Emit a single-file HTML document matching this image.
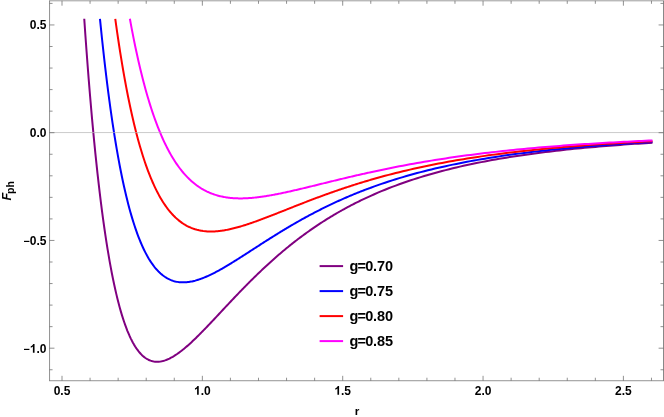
<!DOCTYPE html>
<html><head><meta charset="utf-8"><title>F_ph vs r</title>
<style>
html,body{margin:0;padding:0;background:#fff;}
body{width:664px;height:417px;overflow:hidden;}
svg{display:block;will-change:transform;}
text{font-family:"Liberation Sans",sans-serif;font-weight:bold;fill:#000;}
</style></head>
<body>
<svg width="664" height="417" viewBox="0 0 664 417">
<rect x="0" y="0" width="664" height="417" fill="#ffffff"/>
<!-- curves -->
<g>
<polyline points="84.25,18.80 85.35,34.73 86.46,50.04 87.57,64.76 88.67,78.90 89.78,92.49 90.89,105.54 91.99,118.08 93.10,130.13 94.20,141.69 95.31,152.79 96.42,163.44 97.52,173.66 98.63,183.47 99.74,192.87 100.84,201.89 101.95,210.53 103.05,218.81 104.16,226.74 105.27,234.33 106.37,241.60 107.48,248.55 108.59,255.21 109.69,261.56 110.80,267.64 111.90,273.44 113.01,278.98 114.12,284.27 115.22,289.31 116.33,294.11 117.44,298.68 118.54,303.04 119.65,307.18 120.75,311.11 121.86,314.84 122.97,318.39 124.07,321.74 125.18,324.92 126.29,327.93 127.39,330.77 128.50,333.44 129.60,335.97 130.71,338.34 131.82,340.57 132.92,342.66 134.03,344.61 135.14,346.44 136.24,348.13 137.35,349.71 138.45,351.18 139.56,352.53 140.67,353.77 141.77,354.90 142.88,355.94 143.99,356.88 145.09,357.73 146.20,358.48 147.30,359.15 148.41,359.74 149.52,360.24 150.62,360.67 151.73,361.02 152.84,361.30 153.94,361.52 155.05,361.66 156.16,361.74 157.26,361.76 158.37,361.72 159.47,361.63 160.58,361.48 161.69,361.27 162.79,361.02 163.90,360.72 165.01,360.37 166.11,359.98 167.22,359.54 168.32,359.06 169.43,358.55 170.54,357.99 171.64,357.40 172.75,356.78 173.86,356.12 174.96,355.43 176.07,354.71 177.17,353.96 178.28,353.19 179.39,352.38 180.49,351.56 181.60,350.70 182.71,349.83 183.81,348.93 184.92,348.02 186.02,347.08 187.13,346.12 188.24,345.15 189.34,344.16 190.45,343.16 191.56,342.14 192.66,341.10 193.77,340.05 194.87,338.99 195.98,337.92 197.09,336.84 198.19,335.75 199.30,334.64 200.41,333.53 201.51,332.41 202.62,331.28 203.72,330.15 204.83,329.00 205.94,327.86 207.04,326.70 208.15,325.54 209.26,324.38 210.36,323.21 211.47,322.04 212.57,320.87 213.68,319.69 214.79,318.52 215.89,317.33 217.00,316.15 218.11,314.97 219.21,313.78 220.32,312.60 221.42,311.42 222.53,310.23 223.64,309.05 224.74,307.86 225.85,306.68 226.96,305.50 228.06,304.32 229.17,303.14 230.27,301.97 231.38,300.80 232.49,299.63 233.59,298.46 234.70,297.29 235.81,296.13 236.91,294.97 238.02,293.82 239.12,292.67 240.23,291.52 241.34,290.38 242.44,289.24 243.55,288.10 244.66,286.97 245.76,285.84 246.87,284.72 247.97,283.61 249.08,282.49 250.19,281.39 251.29,280.29 252.40,279.19 253.51,278.10 254.61,277.01 255.72,275.93 256.82,274.86 257.93,273.79 259.04,272.72 260.14,271.67 261.25,270.61 262.36,269.57 263.46,268.53 264.57,267.49 265.68,266.46 266.78,265.44 267.89,264.42 268.99,263.41 270.10,262.41 271.21,261.41 272.31,260.42 273.42,259.43 274.53,258.45 275.63,257.48 276.74,256.51 277.84,255.55 278.95,254.60 280.06,253.65 281.16,252.71 282.27,251.77 283.38,250.84 284.48,249.92 285.59,249.00 286.69,248.09 287.80,247.19 288.91,246.29 290.01,245.40 291.12,244.51 292.23,243.64 293.33,242.76 294.44,241.90 295.54,241.04 296.65,240.18 297.76,239.33 298.86,238.49 299.97,237.66 301.08,236.83 302.18,236.01 303.29,235.19 304.39,234.38 305.50,233.57 306.61,232.78 307.71,231.98 308.82,231.20 309.93,230.42 311.03,229.64 312.14,228.87 313.24,228.11 314.35,227.35 315.46,226.60 316.56,225.86 317.67,225.12 318.78,224.38 319.88,223.66 320.99,222.93 322.09,222.22 323.20,221.51 324.31,220.80 325.41,220.10 326.52,219.41 327.63,218.72 328.73,218.03 329.84,217.36 330.94,216.69 332.05,216.02 333.16,215.36 334.26,214.70 335.37,214.05 336.48,213.40 337.58,212.76 338.69,212.13 339.79,211.50 340.90,210.87 342.01,210.25 343.11,209.64 344.22,209.03 345.33,208.42 346.43,207.82 347.54,207.23 348.64,206.64 349.75,206.05 350.86,205.47 351.96,204.90 353.07,204.33 354.18,203.76 355.28,203.20 356.39,202.64 357.49,202.09 358.60,201.54 359.71,201.00 360.81,200.46 361.92,199.92 363.03,199.39 364.13,198.87 365.24,198.35 366.34,197.83 367.45,197.32 368.56,196.81 369.66,196.31 370.77,195.81 374.34,194.22 377.90,192.68 381.47,191.18 385.03,189.72 388.60,188.30 392.16,186.92 395.73,185.57 399.29,184.26 402.86,182.99 406.43,181.75 409.99,180.54 413.56,179.36 417.12,178.22 420.69,177.11 424.25,176.02 427.82,174.97 431.39,173.94 434.95,172.94 438.52,171.97 442.08,171.02 445.65,170.10 449.21,169.20 452.78,168.33 456.34,167.47 459.91,166.65 463.48,165.84 467.04,165.05 470.61,164.29 474.17,163.54 477.74,162.82 481.30,162.11 484.87,161.42 488.43,160.75 492.00,160.09 495.57,159.46 499.13,158.84 502.70,158.23 506.26,157.64 509.83,157.07 513.39,156.51 516.96,155.96 520.53,155.43 524.09,154.91 527.66,154.41 531.22,153.92 534.79,153.44 538.35,152.97 541.92,152.51 545.48,152.07 549.05,151.64 552.62,151.21 556.18,150.80 559.75,150.40 563.31,150.01 566.88,149.62 570.44,149.25 574.01,148.88 577.57,148.53 581.14,148.18 584.71,147.84 588.27,147.51 591.84,147.19 595.40,146.88 598.97,146.57 602.53,146.27 606.10,145.98 609.67,145.69 613.23,145.41 616.80,145.14 620.36,144.88 623.93,144.62 627.49,144.36 631.06,144.12 634.62,143.87 638.19,143.64 641.76,143.41 645.32,143.18 648.89,142.96 652.45,142.75" fill="none" stroke="#800080" stroke-width="2.0" stroke-linejoin="round" stroke-linecap="butt"/>
<polyline points="99.97,18.80 101.02,29.19 102.06,39.23 103.11,48.94 104.16,58.32 105.20,67.39 106.25,76.15 107.29,84.62 108.34,92.80 109.38,100.70 110.43,108.34 111.47,115.71 112.52,122.83 113.57,129.70 114.61,136.34 115.66,142.74 116.70,148.93 117.75,154.89 118.79,160.64 119.84,166.19 120.88,171.54 121.93,176.70 122.98,181.67 124.02,186.46 125.07,191.08 126.11,195.53 127.16,199.81 128.20,203.93 129.25,207.89 130.29,211.71 131.34,215.38 132.39,218.91 133.43,222.30 134.48,225.55 135.52,228.68 136.57,231.68 137.61,234.56 138.66,237.32 139.70,239.97 140.75,242.50 141.79,244.93 142.84,247.26 143.89,249.48 144.93,251.60 145.98,253.63 147.02,255.57 148.07,257.41 149.11,259.17 150.16,260.85 151.20,262.44 152.25,263.96 153.30,265.39 154.34,266.76 155.39,268.05 156.43,269.27 157.48,270.42 158.52,271.51 159.57,272.53 160.61,273.49 161.66,274.39 162.71,275.24 163.75,276.02 164.80,276.76 165.84,277.44 166.89,278.07 167.93,278.65 168.98,279.18 170.02,279.66 171.07,280.10 172.12,280.50 173.16,280.85 174.21,281.17 175.25,281.44 176.30,281.68 177.34,281.87 178.39,282.04 179.43,282.17 180.48,282.26 181.53,282.33 182.57,282.36 183.62,282.36 184.66,282.33 185.71,282.28 186.75,282.19 187.80,282.08 188.84,281.95 189.89,281.79 190.94,281.61 191.98,281.40 193.03,281.17 194.07,280.92 195.12,280.66 196.16,280.37 197.21,280.06 198.25,279.73 199.30,279.39 200.35,279.03 201.39,278.65 202.44,278.26 203.48,277.85 204.53,277.43 205.57,276.99 206.62,276.54 207.66,276.08 208.71,275.60 209.76,275.11 210.80,274.62 211.85,274.11 212.89,273.59 213.94,273.06 214.98,272.52 216.03,271.97 217.07,271.41 218.12,270.85 219.17,270.28 220.21,269.70 221.26,269.11 222.30,268.51 223.35,267.91 224.39,267.31 225.44,266.69 226.48,266.08 227.53,265.45 228.58,264.82 229.62,264.19 230.67,263.55 231.71,262.91 232.76,262.27 233.80,261.62 234.85,260.97 235.89,260.31 236.94,259.66 237.99,259.00 239.03,258.33 240.08,257.67 241.12,257.00 242.17,256.33 243.21,255.66 244.26,254.99 245.30,254.32 246.35,253.65 247.40,252.97 248.44,252.30 249.49,251.62 250.53,250.95 251.58,250.27 252.62,249.60 253.67,248.92 254.71,248.24 255.76,247.57 256.81,246.89 257.85,246.22 258.90,245.54 259.94,244.87 260.99,244.20 262.03,243.53 263.08,242.86 264.12,242.19 265.17,241.52 266.22,240.86 267.26,240.19 268.31,239.53 269.35,238.87 270.40,238.21 271.44,237.55 272.49,236.89 273.53,236.24 274.58,235.58 275.63,234.93 276.67,234.29 277.72,233.64 278.76,233.00 279.81,232.36 280.85,231.72 281.90,231.08 282.94,230.45 283.99,229.81 285.04,229.18 286.08,228.56 287.13,227.93 288.17,227.31 289.22,226.69 290.26,226.08 291.31,225.46 292.35,224.85 293.40,224.24 294.44,223.64 295.49,223.04 296.54,222.44 297.58,221.84 298.63,221.25 299.67,220.66 300.72,220.07 301.76,219.49 302.81,218.90 303.85,218.33 304.90,217.75 305.95,217.18 306.99,216.61 308.04,216.04 309.08,215.48 310.13,214.92 311.17,214.36 312.22,213.81 313.26,213.26 314.31,212.71 315.36,212.17 316.40,211.62 317.45,211.09 318.49,210.55 319.54,210.02 320.58,209.49 321.63,208.96 322.67,208.44 323.72,207.92 324.77,207.41 325.81,206.89 326.86,206.38 327.90,205.88 328.95,205.37 329.99,204.87 331.04,204.37 332.08,203.88 333.13,203.39 334.18,202.90 335.22,202.42 336.27,201.93 337.31,201.45 338.36,200.98 339.40,200.51 340.45,200.04 341.49,199.57 342.54,199.11 343.59,198.64 344.63,198.19 345.68,197.73 346.72,197.28 347.77,196.83 348.81,196.39 349.86,195.94 350.90,195.50 351.95,195.07 353.00,194.63 354.04,194.20 355.09,193.77 356.13,193.35 357.18,192.93 358.22,192.51 359.27,192.09 360.31,191.68 361.36,191.27 362.41,190.86 363.45,190.45 364.50,190.05 365.54,189.65 366.59,189.25 367.63,188.86 368.68,188.47 369.72,188.08 370.77,187.69 374.34,186.40 377.90,185.13 381.47,183.90 385.03,182.69 388.60,181.52 392.16,180.37 395.73,179.25 399.29,178.15 402.86,177.09 406.43,176.05 409.99,175.03 413.56,174.04 417.12,173.07 420.69,172.13 424.25,171.21 427.82,170.32 431.39,169.44 434.95,168.59 438.52,167.76 442.08,166.95 445.65,166.16 449.21,165.38 452.78,164.63 456.34,163.90 459.91,163.18 463.48,162.48 467.04,161.80 470.61,161.14 474.17,160.49 477.74,159.86 481.30,159.24 484.87,158.64 488.43,158.06 492.00,157.48 495.57,156.93 499.13,156.38 502.70,155.85 506.26,155.33 509.83,154.83 513.39,154.33 516.96,153.85 520.53,153.38 524.09,152.93 527.66,152.48 531.22,152.04 534.79,151.62 538.35,151.20 541.92,150.79 545.48,150.40 549.05,150.01 552.62,149.63 556.18,149.27 559.75,148.91 563.31,148.56 566.88,148.21 570.44,147.88 574.01,147.55 577.57,147.23 581.14,146.92 584.71,146.62 588.27,146.32 591.84,146.03 595.40,145.75 598.97,145.47 602.53,145.20 606.10,144.93 609.67,144.68 613.23,144.42 616.80,144.18 620.36,143.94 623.93,143.70 627.49,143.47 631.06,143.25 634.62,143.03 638.19,142.81 641.76,142.60 645.32,142.40 648.89,142.20 652.45,142.00" fill="none" stroke="#0000ff" stroke-width="2.0" stroke-linejoin="round" stroke-linecap="butt"/>
<polyline points="115.27,18.80 116.25,25.90 117.24,32.80 118.23,39.50 119.21,46.00 120.20,52.32 121.19,58.46 122.17,64.42 123.16,70.21 124.15,75.83 125.13,81.29 126.12,86.58 127.11,91.73 128.09,96.72 129.08,101.56 130.07,106.26 131.05,110.83 132.04,115.25 133.03,119.55 134.01,123.72 135.00,127.76 135.98,131.68 136.97,135.48 137.96,139.17 138.94,142.74 139.93,146.20 140.92,149.56 141.90,152.82 142.89,155.97 143.88,159.02 144.86,161.98 145.85,164.85 146.84,167.62 147.82,170.31 148.81,172.91 149.80,175.42 150.78,177.85 151.77,180.21 152.76,182.48 153.74,184.68 154.73,186.81 155.71,188.87 156.70,190.85 157.69,192.77 158.67,194.62 159.66,196.41 160.65,198.13 161.63,199.79 162.62,201.40 163.61,202.94 164.59,204.43 165.58,205.86 166.57,207.24 167.55,208.57 168.54,209.85 169.53,211.07 170.51,212.25 171.50,213.38 172.49,214.47 173.47,215.51 174.46,216.51 175.44,217.47 176.43,218.38 177.42,219.26 178.40,220.10 179.39,220.90 180.38,221.66 181.36,222.38 182.35,223.08 183.34,223.73 184.32,224.36 185.31,224.95 186.30,225.51 187.28,226.04 188.27,226.54 189.26,227.02 190.24,227.46 191.23,227.88 192.21,228.27 193.20,228.63 194.19,228.97 195.17,229.29 196.16,229.58 197.15,229.85 198.13,230.09 199.12,230.32 200.11,230.52 201.09,230.70 202.08,230.86 203.07,231.01 204.05,231.13 205.04,231.24 206.03,231.32 207.01,231.40 208.00,231.45 208.99,231.49 209.97,231.51 210.96,231.51 211.94,231.51 212.93,231.48 213.92,231.45 214.90,231.39 215.89,231.33 216.88,231.25 217.86,231.16 218.85,231.06 219.84,230.95 220.82,230.83 221.81,230.69 222.80,230.54 223.78,230.39 224.77,230.22 225.76,230.05 226.74,229.86 227.73,229.67 228.72,229.46 229.70,229.25 230.69,229.03 231.67,228.80 232.66,228.57 233.65,228.33 234.63,228.08 235.62,227.82 236.61,227.56 237.59,227.29 238.58,227.01 239.57,226.73 240.55,226.44 241.54,226.15 242.53,225.85 243.51,225.55 244.50,225.24 245.49,224.93 246.47,224.61 247.46,224.29 248.44,223.96 249.43,223.63 250.42,223.29 251.40,222.96 252.39,222.61 253.38,222.27 254.36,221.92 255.35,221.57 256.34,221.22 257.32,220.86 258.31,220.50 259.30,220.14 260.28,219.77 261.27,219.41 262.26,219.04 263.24,218.67 264.23,218.29 265.22,217.92 266.20,217.54 267.19,217.17 268.17,216.79 269.16,216.41 270.15,216.02 271.13,215.64 272.12,215.26 273.11,214.87 274.09,214.49 275.08,214.10 276.07,213.71 277.05,213.32 278.04,212.93 279.03,212.54 280.01,212.15 281.00,211.76 281.99,211.37 282.97,210.98 283.96,210.59 284.95,210.20 285.93,209.81 286.92,209.42 287.90,209.03 288.89,208.63 289.88,208.24 290.86,207.85 291.85,207.46 292.84,207.07 293.82,206.68 294.81,206.30 295.80,205.91 296.78,205.52 297.77,205.13 298.76,204.74 299.74,204.36 300.73,203.97 301.72,203.59 302.70,203.20 303.69,202.82 304.68,202.44 305.66,202.06 306.65,201.68 307.63,201.30 308.62,200.92 309.61,200.54 310.59,200.17 311.58,199.79 312.57,199.42 313.55,199.04 314.54,198.67 315.53,198.30 316.51,197.93 317.50,197.56 318.49,197.20 319.47,196.83 320.46,196.46 321.45,196.10 322.43,195.74 323.42,195.38 324.40,195.02 325.39,194.66 326.38,194.30 327.36,193.95 328.35,193.60 329.34,193.24 330.32,192.89 331.31,192.54 332.30,192.19 333.28,191.85 334.27,191.50 335.26,191.16 336.24,190.82 337.23,190.47 338.22,190.14 339.20,189.80 340.19,189.46 341.18,189.13 342.16,188.79 343.15,188.46 344.13,188.13 345.12,187.80 346.11,187.48 347.09,187.15 348.08,186.83 349.07,186.50 350.05,186.18 351.04,185.86 352.03,185.55 353.01,185.23 354.00,184.92 354.99,184.60 355.97,184.29 356.96,183.98 357.95,183.67 358.93,183.37 359.92,183.06 360.91,182.76 361.89,182.46 362.88,182.16 363.86,181.86 364.85,181.56 365.84,181.27 366.82,180.97 367.81,180.68 368.80,180.39 369.78,180.10 370.77,179.81 374.34,178.79 377.90,177.78 381.47,176.79 385.03,175.83 388.60,174.88 392.16,173.96 395.73,173.05 399.29,172.16 402.86,171.30 406.43,170.45 409.99,169.61 413.56,168.80 417.12,168.01 420.69,167.23 424.25,166.47 427.82,165.72 431.39,165.00 434.95,164.28 438.52,163.59 442.08,162.91 445.65,162.25 449.21,161.60 452.78,160.96 456.34,160.34 459.91,159.74 463.48,159.14 467.04,158.57 470.61,158.00 474.17,157.45 477.74,156.91 481.30,156.38 484.87,155.87 488.43,155.36 492.00,154.87 495.57,154.39 499.13,153.92 502.70,153.46 506.26,153.01 509.83,152.57 513.39,152.15 516.96,151.73 520.53,151.32 524.09,150.92 527.66,150.53 531.22,150.15 534.79,149.78 538.35,149.41 541.92,149.06 545.48,148.71 549.05,148.37 552.62,148.04 556.18,147.71 559.75,147.40 563.31,147.09 566.88,146.78 570.44,146.49 574.01,146.20 577.57,145.92 581.14,145.64 584.71,145.37 588.27,145.11 591.84,144.85 595.40,144.60 598.97,144.35 602.53,144.11 606.10,143.87 609.67,143.64 613.23,143.42 616.80,143.19 620.36,142.98 623.93,142.77 627.49,142.56 631.06,142.36 634.62,142.16 638.19,141.97 641.76,141.78 645.32,141.60 648.89,141.42 652.45,141.24" fill="none" stroke="#ff0000" stroke-width="2.0" stroke-linejoin="round" stroke-linecap="butt"/>
<polyline points="129.89,18.80 130.82,23.88 131.75,28.83 132.68,33.66 133.61,38.37 134.54,42.96 135.47,47.44 136.40,51.81 137.33,56.07 138.26,60.22 139.19,64.27 140.12,68.22 141.05,72.07 141.98,75.82 142.91,79.48 143.84,83.05 144.77,86.53 145.70,89.92 146.63,93.22 147.56,96.44 148.49,99.58 149.42,102.63 150.35,105.61 151.28,108.52 152.21,111.35 153.14,114.10 154.07,116.79 155.00,119.40 155.93,121.95 156.86,124.43 157.79,126.85 158.72,129.20 159.65,131.49 160.58,133.72 161.51,135.89 162.44,138.00 163.37,140.06 164.30,142.06 165.23,144.01 166.16,145.90 167.09,147.74 168.02,149.54 168.95,151.28 169.88,152.98 170.81,154.63 171.74,156.23 172.67,157.79 173.60,159.30 174.53,160.77 175.46,162.20 176.39,163.59 177.32,164.94 178.25,166.25 179.18,167.52 180.11,168.75 181.04,169.95 181.97,171.11 182.90,172.24 183.83,173.33 184.76,174.39 185.69,175.41 186.62,176.41 187.55,177.37 188.48,178.31 189.41,179.21 190.34,180.09 191.27,180.93 192.20,181.75 193.13,182.54 194.06,183.31 194.99,184.05 195.92,184.77 196.85,185.46 197.78,186.12 198.71,186.76 199.64,187.38 200.57,187.98 201.50,188.56 202.43,189.11 203.36,189.64 204.29,190.16 205.22,190.65 206.15,191.12 207.08,191.58 208.01,192.01 208.94,192.43 209.87,192.83 210.80,193.21 211.73,193.58 212.66,193.93 213.59,194.26 214.52,194.58 215.45,194.88 216.38,195.17 217.31,195.44 218.24,195.70 219.17,195.94 220.10,196.17 221.03,196.39 221.96,196.59 222.89,196.79 223.82,196.97 224.75,197.13 225.68,197.29 226.61,197.43 227.54,197.57 228.47,197.69 229.40,197.80 230.33,197.90 231.26,197.99 232.19,198.07 233.12,198.14 234.05,198.21 234.98,198.26 235.91,198.30 236.84,198.34 237.77,198.36 238.70,198.38 239.63,198.39 240.56,198.40 241.49,198.39 242.42,198.38 243.35,198.36 244.28,198.33 245.21,198.30 246.14,198.26 247.07,198.21 248.00,198.16 248.93,198.10 249.86,198.04 250.79,197.96 251.72,197.89 252.65,197.81 253.58,197.72 254.51,197.62 255.44,197.53 256.37,197.42 257.30,197.32 258.23,197.20 259.16,197.09 260.09,196.97 261.02,196.84 261.95,196.71 262.88,196.58 263.81,196.44 264.74,196.30 265.67,196.15 266.60,196.00 267.53,195.85 268.46,195.70 269.39,195.54 270.32,195.38 271.25,195.21 272.18,195.04 273.11,194.87 274.04,194.70 274.97,194.52 275.90,194.34 276.83,194.16 277.76,193.98 278.69,193.79 279.62,193.61 280.56,193.42 281.49,193.22 282.42,193.03 283.35,192.83 284.28,192.63 285.21,192.43 286.14,192.23 287.07,192.03 288.00,191.82 288.93,191.62 289.86,191.41 290.79,191.20 291.72,190.99 292.65,190.78 293.58,190.56 294.51,190.35 295.44,190.13 296.37,189.92 297.30,189.70 298.23,189.48 299.16,189.26 300.09,189.04 301.02,188.82 301.95,188.60 302.88,188.38 303.81,188.15 304.74,187.93 305.67,187.71 306.60,187.48 307.53,187.26 308.46,187.03 309.39,186.80 310.32,186.58 311.25,186.35 312.18,186.12 313.11,185.89 314.04,185.67 314.97,185.44 315.90,185.21 316.83,184.98 317.76,184.75 318.69,184.52 319.62,184.29 320.55,184.07 321.48,183.84 322.41,183.61 323.34,183.38 324.27,183.15 325.20,182.92 326.13,182.69 327.06,182.47 327.99,182.24 328.92,182.01 329.85,181.78 330.78,181.55 331.71,181.33 332.64,181.10 333.57,180.87 334.50,180.65 335.43,180.42 336.36,180.20 337.29,179.97 338.22,179.74 339.15,179.52 340.08,179.30 341.01,179.07 341.94,178.85 342.87,178.63 343.80,178.40 344.73,178.18 345.66,177.96 346.59,177.74 347.52,177.52 348.45,177.30 349.38,177.08 350.31,176.86 351.24,176.64 352.17,176.43 353.10,176.21 354.03,175.99 354.96,175.78 355.89,175.56 356.82,175.35 357.75,175.14 358.68,174.92 359.61,174.71 360.54,174.50 361.47,174.29 362.40,174.08 363.33,173.87 364.26,173.66 365.19,173.45 366.12,173.24 367.05,173.03 367.98,172.83 368.91,172.62 369.84,172.42 370.77,172.21 374.34,171.44 377.90,170.68 381.47,169.92 385.03,169.18 388.60,168.45 392.16,167.74 395.73,167.03 399.29,166.34 402.86,165.66 406.43,164.99 409.99,164.33 413.56,163.68 417.12,163.05 420.69,162.43 424.25,161.82 427.82,161.22 431.39,160.63 434.95,160.06 438.52,159.49 442.08,158.94 445.65,158.40 449.21,157.86 452.78,157.34 456.34,156.83 459.91,156.33 463.48,155.84 467.04,155.36 470.61,154.89 474.17,154.43 477.74,153.98 481.30,153.54 484.87,153.11 488.43,152.68 492.00,152.27 495.57,151.87 499.13,151.47 502.70,151.08 506.26,150.70 509.83,150.33 513.39,149.96 516.96,149.61 520.53,149.26 524.09,148.92 527.66,148.58 531.22,148.25 534.79,147.93 538.35,147.62 541.92,147.32 545.48,147.02 549.05,146.72 552.62,146.43 556.18,146.15 559.75,145.88 563.31,145.61 566.88,145.35 570.44,145.09 574.01,144.84 577.57,144.59 581.14,144.35 584.71,144.11 588.27,143.88 591.84,143.65 595.40,143.43 598.97,143.22 602.53,143.00 606.10,142.80 609.67,142.59 613.23,142.39 616.80,142.20 620.36,142.01 623.93,141.82 627.49,141.64 631.06,141.46 634.62,141.28 638.19,141.11 641.76,140.95 645.32,140.78 648.89,140.62 652.45,140.46" fill="none" stroke="#ff00ff" stroke-width="2.0" stroke-linejoin="round" stroke-linecap="butt"/>
</g>
<!-- zero axis -->
<line x1="49.55" x2="663.50" y1="132.55" y2="132.55" stroke="#b4b4b4" stroke-width="0.7"/>
<!-- frame -->
<g stroke="#666666" stroke-linecap="square">
<line x1="49.55" x2="49.55" y1="0.80" y2="380.72" stroke-width="0.72" stroke-linecap="butt"/>
<line x1="663.50" x2="663.50" y1="0.80" y2="380.72" stroke-width="0.78" stroke-linecap="butt"/>
<line x1="49.55" x2="663.50" y1="0.80" y2="0.80" stroke-width="0.66"/>
<line x1="49.55" x2="663.50" y1="380.72" y2="380.72" stroke-width="0.70"/>
</g>
<g stroke="#666666" stroke-width="0.72">
<line x1="62.00" x2="62.00" y1="380.72" y2="375.82"/>
<line x1="62.00" x2="62.00" y1="0.80" y2="5.70"/>
<line x1="90.07" x2="90.07" y1="380.72" y2="377.72"/>
<line x1="90.07" x2="90.07" y1="0.80" y2="3.80"/>
<line x1="118.14" x2="118.14" y1="380.72" y2="377.72"/>
<line x1="118.14" x2="118.14" y1="0.80" y2="3.80"/>
<line x1="146.21" x2="146.21" y1="380.72" y2="377.72"/>
<line x1="146.21" x2="146.21" y1="0.80" y2="3.80"/>
<line x1="174.28" x2="174.28" y1="380.72" y2="377.72"/>
<line x1="174.28" x2="174.28" y1="0.80" y2="3.80"/>
<line x1="202.35" x2="202.35" y1="380.72" y2="375.82"/>
<line x1="202.35" x2="202.35" y1="0.80" y2="5.70"/>
<line x1="230.42" x2="230.42" y1="380.72" y2="377.72"/>
<line x1="230.42" x2="230.42" y1="0.80" y2="3.80"/>
<line x1="258.49" x2="258.49" y1="380.72" y2="377.72"/>
<line x1="258.49" x2="258.49" y1="0.80" y2="3.80"/>
<line x1="286.56" x2="286.56" y1="380.72" y2="377.72"/>
<line x1="286.56" x2="286.56" y1="0.80" y2="3.80"/>
<line x1="314.63" x2="314.63" y1="380.72" y2="377.72"/>
<line x1="314.63" x2="314.63" y1="0.80" y2="3.80"/>
<line x1="342.70" x2="342.70" y1="380.72" y2="375.82"/>
<line x1="342.70" x2="342.70" y1="0.80" y2="5.70"/>
<line x1="370.77" x2="370.77" y1="380.72" y2="377.72"/>
<line x1="370.77" x2="370.77" y1="0.80" y2="3.80"/>
<line x1="398.84" x2="398.84" y1="380.72" y2="377.72"/>
<line x1="398.84" x2="398.84" y1="0.80" y2="3.80"/>
<line x1="426.91" x2="426.91" y1="380.72" y2="377.72"/>
<line x1="426.91" x2="426.91" y1="0.80" y2="3.80"/>
<line x1="454.98" x2="454.98" y1="380.72" y2="377.72"/>
<line x1="454.98" x2="454.98" y1="0.80" y2="3.80"/>
<line x1="483.05" x2="483.05" y1="380.72" y2="375.82"/>
<line x1="483.05" x2="483.05" y1="0.80" y2="5.70"/>
<line x1="511.12" x2="511.12" y1="380.72" y2="377.72"/>
<line x1="511.12" x2="511.12" y1="0.80" y2="3.80"/>
<line x1="539.19" x2="539.19" y1="380.72" y2="377.72"/>
<line x1="539.19" x2="539.19" y1="0.80" y2="3.80"/>
<line x1="567.26" x2="567.26" y1="380.72" y2="377.72"/>
<line x1="567.26" x2="567.26" y1="0.80" y2="3.80"/>
<line x1="595.33" x2="595.33" y1="380.72" y2="377.72"/>
<line x1="595.33" x2="595.33" y1="0.80" y2="3.80"/>
<line x1="623.40" x2="623.40" y1="380.72" y2="375.82"/>
<line x1="623.40" x2="623.40" y1="0.80" y2="5.70"/>
<line x1="651.47" x2="651.47" y1="380.72" y2="377.72"/>
<line x1="651.47" x2="651.47" y1="0.80" y2="3.80"/>
<line x1="49.55" x2="52.55" y1="369.75" y2="369.75"/>
<line x1="663.50" x2="660.50" y1="369.75" y2="369.75"/>
<line x1="49.55" x2="54.45" y1="348.20" y2="348.20"/>
<line x1="663.50" x2="658.60" y1="348.20" y2="348.20"/>
<line x1="49.55" x2="52.55" y1="326.65" y2="326.65"/>
<line x1="663.50" x2="660.50" y1="326.65" y2="326.65"/>
<line x1="49.55" x2="52.55" y1="305.10" y2="305.10"/>
<line x1="663.50" x2="660.50" y1="305.10" y2="305.10"/>
<line x1="49.55" x2="52.55" y1="283.55" y2="283.55"/>
<line x1="663.50" x2="660.50" y1="283.55" y2="283.55"/>
<line x1="49.55" x2="52.55" y1="262.00" y2="262.00"/>
<line x1="663.50" x2="660.50" y1="262.00" y2="262.00"/>
<line x1="49.55" x2="54.45" y1="240.45" y2="240.45"/>
<line x1="663.50" x2="658.60" y1="240.45" y2="240.45"/>
<line x1="49.55" x2="52.55" y1="218.90" y2="218.90"/>
<line x1="663.50" x2="660.50" y1="218.90" y2="218.90"/>
<line x1="49.55" x2="52.55" y1="197.35" y2="197.35"/>
<line x1="663.50" x2="660.50" y1="197.35" y2="197.35"/>
<line x1="49.55" x2="52.55" y1="175.80" y2="175.80"/>
<line x1="663.50" x2="660.50" y1="175.80" y2="175.80"/>
<line x1="49.55" x2="52.55" y1="154.25" y2="154.25"/>
<line x1="663.50" x2="660.50" y1="154.25" y2="154.25"/>
<line x1="49.55" x2="54.45" y1="132.70" y2="132.70"/>
<line x1="663.50" x2="658.60" y1="132.70" y2="132.70"/>
<line x1="49.55" x2="52.55" y1="111.15" y2="111.15"/>
<line x1="663.50" x2="660.50" y1="111.15" y2="111.15"/>
<line x1="49.55" x2="52.55" y1="89.60" y2="89.60"/>
<line x1="663.50" x2="660.50" y1="89.60" y2="89.60"/>
<line x1="49.55" x2="52.55" y1="68.05" y2="68.05"/>
<line x1="663.50" x2="660.50" y1="68.05" y2="68.05"/>
<line x1="49.55" x2="52.55" y1="46.50" y2="46.50"/>
<line x1="663.50" x2="660.50" y1="46.50" y2="46.50"/>
<line x1="49.55" x2="54.45" y1="24.95" y2="24.95"/>
<line x1="663.50" x2="658.60" y1="24.95" y2="24.95"/>
<line x1="49.55" x2="52.55" y1="3.40" y2="3.40"/>
<line x1="663.50" x2="660.50" y1="3.40" y2="3.40"/>
</g>
<g font-size="12">
<text x="62.00" y="394.7" text-anchor="middle">0.5</text>
<path d="M806 0H525V1059Q371 915 162 846V1101Q272 1137 401 1237.5T578 1472H806Z" transform="translate(194.01,394.70) scale(0.00586,-0.00586)" fill="#000"/><text x="200.68" y="394.70" font-size="12.0">.</text><text x="204.02" y="394.70" font-size="12.0">0</text>
<path d="M806 0H525V1059Q371 915 162 846V1101Q272 1137 401 1237.5T578 1472H806Z" transform="translate(334.36,394.70) scale(0.00586,-0.00586)" fill="#000"/><text x="341.03" y="394.70" font-size="12.0">.</text><text x="344.37" y="394.70" font-size="12.0">5</text>
<text x="483.05" y="394.7" text-anchor="middle">2.0</text>
<text x="623.40" y="394.7" text-anchor="middle">2.5</text>
<text x="46.5" y="29.45" text-anchor="end">0.5</text>
<text x="46.5" y="137.20" text-anchor="end">0.0</text>
<text x="46.5" y="244.95" text-anchor="end"><tspan font-size="10.8">−</tspan>0.5</text>
<text x="23.51" y="352.70" font-size="10.8">−</text><path d="M806 0H525V1059Q371 915 162 846V1101Q272 1137 401 1237.5T578 1472H806Z" transform="translate(29.82,352.70) scale(0.00586,-0.00586)" fill="#000"/><text x="36.49" y="352.70" font-size="12.0">.</text><text x="39.83" y="352.70" font-size="12.0">0</text>
</g>
<g>
<line x1="319.6" x2="343.1" y1="266.10" y2="266.10" stroke="#800080" stroke-width="2.0"/>
<text x="349.4" y="270.90" font-size="14.5" letter-spacing="-0.45" dx="0 -0.35 -0.25 0 0.5 0.5">g=0.70</text>
<line x1="319.6" x2="343.1" y1="291.10" y2="291.10" stroke="#0000ff" stroke-width="2.0"/>
<text x="349.4" y="295.90" font-size="14.5" letter-spacing="-0.45" dx="0 -0.35 -0.25 0 0.5 0.5">g=0.75</text>
<line x1="319.6" x2="343.1" y1="316.10" y2="316.10" stroke="#ff0000" stroke-width="2.0"/>
<text x="349.4" y="320.90" font-size="14.5" letter-spacing="-0.45" dx="0 -0.35 -0.25 0 0.5 0.5">g=0.80</text>
<line x1="319.6" x2="343.1" y1="341.10" y2="341.10" stroke="#ff00ff" stroke-width="2.0"/>
<text x="349.4" y="345.90" font-size="14.5" letter-spacing="-0.45" dx="0 -0.35 -0.25 0 0.5 0.5">g=0.85</text>
</g>
<!-- axis labels -->
<text x="357.1" y="414.8" text-anchor="middle" font-size="11.8">r</text>
<g transform="translate(10.8,200.4) rotate(-90)">
<text x="0" y="0" font-size="12.5" font-style="italic">F<tspan font-size="10.5" font-style="normal" dx="-1.2" dy="2.8">ph</tspan></text>
</g>
</svg>
</body></html>
